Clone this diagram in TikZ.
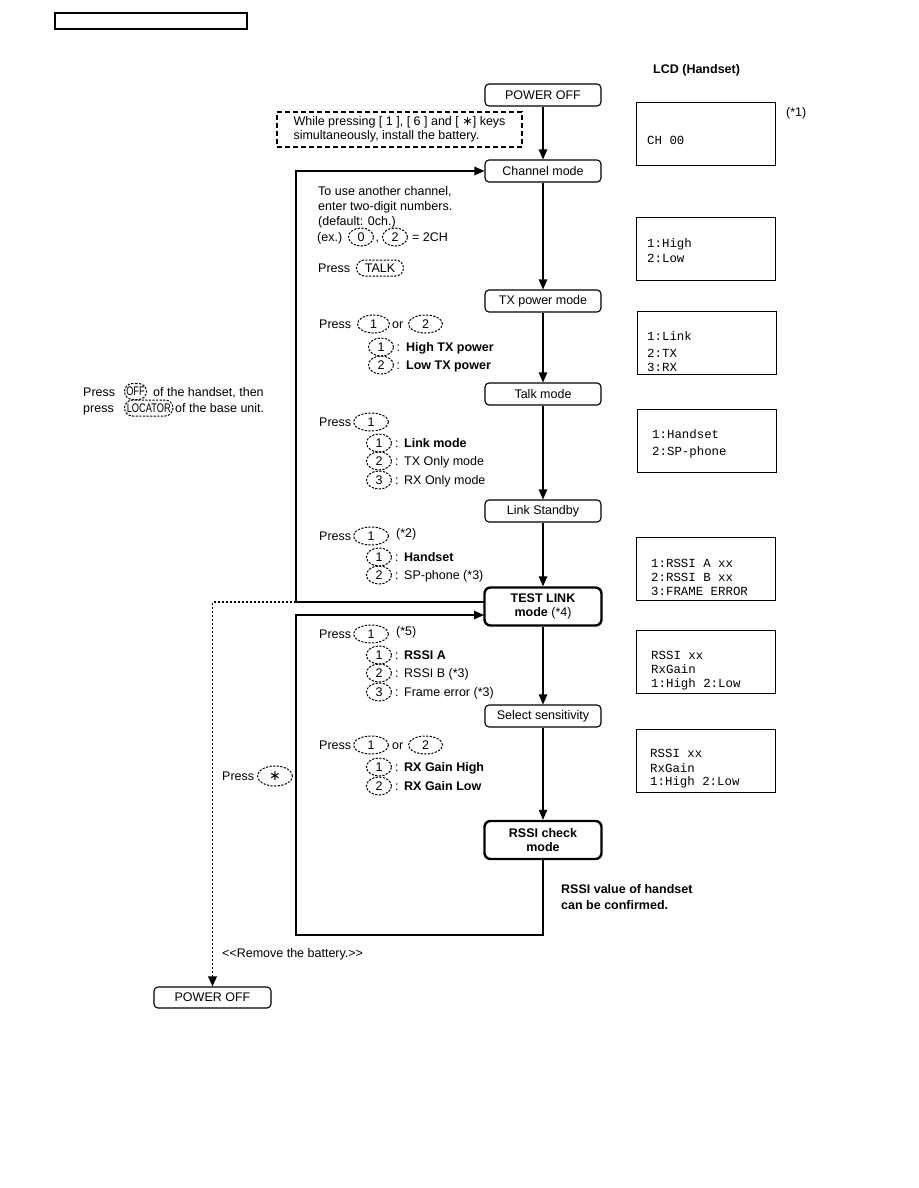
\documentclass[tikz,border=0pt]{standalone}
\usepackage{fontspec}
\setmainfont{Liberation Sans}
\setmonofont{Liberation Mono}
\newfontfamily\symfont{DejaVu Sans}
\newfontfamily\condfont[FakeStretch=0.74]{Liberation Sans}
\usetikzlibrary{arrows.meta,shapes.misc,shapes.geometric}
\newcommand\fs{\fontsize{12.5}{15}\selectfont}
\newcommand\lcdfs{\fontsize{12.4}{15}\selectfont}
\begin{document}
\begin{tikzpicture}[x=1pt,y=-1pt,
  txt/.style={inner sep=0pt, anchor=base west, font=\fs},
  btxt/.style={txt, font=\fs\bfseries},
  mtxt/.style={inner sep=0pt, anchor=base west, font=\lcdfs\ttfamily},
  keyo/.style={draw, dash pattern=on 2.2pt off 1.4pt, line width=1pt, ellipse, inner sep=0pt, minimum height=18pt, anchor=west, font=\fs},
  keyw/.style={keyo, rounded rectangle},
  mode/.style={draw, rounded corners=4pt, line width=1.1pt, minimum width=116pt, minimum height=22pt, inner sep=0pt, font=\fs},
  bigmode/.style={mode, line width=2.4pt, rounded corners=6pt, minimum width=117pt, minimum height=38pt, align=center, font=\fontsize{12.5}{14}\selectfont},
  lcd/.style={draw, line width=1.3pt, minimum width=139pt, minimum height=63pt, inner sep=0pt, anchor=north west},
  arr/.style={line width=1.1pt, -{Triangle[length=10pt,width=8.5pt]}},
  dotarr/.style={line width=1.7pt, dash pattern=on 2.5pt off 1.5pt, -{Triangle[length=10pt,width=8.5pt]}}
]
\useasboundingbox (0,0) rectangle (918,1188);

% header box
\node[draw, line width=1.4pt, minimum width=192pt, minimum height=16pt, inner sep=0pt] (hdr) at (151,21) {};

% LCD header
\node[btxt] (lcdh) at (653,73.5) {LCD (Handset)};

% main mode boxes
\node[mode] (po1) at (543,95) {POWER OFF};
\node[mode] (ch) at (543,171) {Channel mode};
\node[mode] (tx) at (543,301) {TX power mode};
\node[mode] (talk) at (543,394) {Talk mode};
\node[mode] (ls) at (543,511) {Link Standby};
\node[bigmode] (tl) at (543,606.5) {\textbf{TEST LINK}\\\textbf{mode} (*4)};
\node[mode] (ss) at (543,716) {Select sensitivity};
\node[bigmode] (rc) at (543,840) {\textbf{RSSI check}\\\textbf{mode}};
\node[mode, minimum width=117pt, minimum height=21pt] (po2) at (212.5,997.5) {POWER OFF};

% dashed instruction box
\node[draw, line width=1.4pt, dash pattern=on 5pt off 3pt, minimum width=245pt, minimum height=35pt, inner sep=0pt, align=left, font=\fontsize{12.5}{14}\selectfont] (db) at (399.5,129.5)
  {While pressing [ 1 ], [ 6 ] and [ {\symfont ∗}] keys\\simultaneously, install the battery.};

% main connectors
\draw[arr] (po1) -- (ch);
\draw[arr] (ch) -- (tx);
\draw[arr] (tx) -- (talk);
\draw[arr] (talk) -- (ls);
\draw[arr] (ls) -- (tl);
\draw[arr] (tl) -- (ss);
\draw[arr] (ss) -- (rc);

% loops
\coordinate (ul) at (296,602);
\coordinate (tlout) at (484,602);
\coordinate (tlin) at (484,615);
\coordinate (lb) at (296,935);
\draw[arr] (tlout) -- (ul) |- (ch.west);
\draw[arr] (rc.south) |- (lb) |- (tlin);
\coordinate (dl) at (212.5,602);
\draw[dotarr] (ul) -- (dl) -- (po2.north);

% channel mode section
\node[txt] (c1) at (318,195.5) {To use another channel,};
\node[txt] (c2) at (318,210) {enter two-digit numbers.};
\node[txt] (c3) at (318,225) {(default: 0ch.)};
\node[txt] (c4) at (317,241.5) {(ex.)};
\node[keyo, minimum width=25pt] (c4k1) at (348,237) {0};
\node[txt] (c4c) at (375.5,241.5) {,};
\node[keyo, minimum width=25pt] (c4k2) at (382,237) {2};
\node[txt] (c4e) at (412,241.5) {= 2CH};
\node[txt] (c5) at (318,272.5) {Press};
\node[keyw, minimum width=47pt, minimum height=16pt] (c5k) at (356,268) {TALK};

% TX power section
\node[txt] (t1) at (319,328.5) {Press};
\node[keyo, minimum width=32pt] (t1k1) at (357,324) {1};
\node[txt] (t1o) at (392,328.5) {or};
\node[keyo, minimum width=34pt] (t1k2) at (408,324) {2};
\node[keyo, minimum width=25pt] (t2k) at (368,347) {1};
\node[txt] (t2) at (396.5,351.5) {:\hspace{6pt}\textbf{High TX power}};
\node[keyo, minimum width=25pt] (t3k) at (368,365) {2};
\node[txt] (t3) at (396.5,369.5) {:\hspace{6pt}\textbf{Low TX power}};

% talk mode section
\node[txt] (k1) at (319,426.5) {Press};
\node[keyo, minimum width=35pt] (k1k) at (353,422) {1};
\node[keyo, minimum width=25pt] (k2k) at (366,443) {1};
\node[txt] (k2) at (395,447.5) {:\hspace{5.5pt}\textbf{Link mode}};
\node[keyo, minimum width=25pt] (k3k) at (366,461) {2};
\node[txt] (k3) at (395,465.5) {:\hspace{5.5pt}TX Only mode};
\node[keyo, minimum width=25pt] (k4k) at (366,480) {3};
\node[txt] (k4) at (395,484.5) {:\hspace{5.5pt}RX Only mode};

% link standby section
\node[txt] (s1) at (319,540.5) {Press};
\node[keyo, minimum width=35pt] (s1k) at (353,536) {1};
\node[txt] (s1n) at (396,537.5) {(*2)};
\node[keyo, minimum width=25pt] (s2k) at (366,557) {1};
\node[txt] (s2) at (395,561.5) {:\hspace{5.5pt}\textbf{Handset}};
\node[keyo, minimum width=25pt] (s3k) at (366,575) {2};
\node[txt] (s3) at (395,579.5) {:\hspace{5.5pt}SP-phone (*3)};

% test link section
\node[txt] (r1) at (319,638.5) {Press};
\node[keyo, minimum width=35pt] (r1k) at (353,634) {1};
\node[txt] (r1n) at (396,635.5) {(*5)};
\node[keyo, minimum width=25pt] (r2k) at (366,655) {1};
\node[txt] (r2) at (395,659.5) {:\hspace{5.5pt}\textbf{RSSI A}};
\node[keyo, minimum width=25pt] (r3k) at (366,673) {2};
\node[txt] (r3) at (395,677.5) {:\hspace{5.5pt}RSSI B (*3)};
\node[keyo, minimum width=25pt] (r4k) at (366,692) {3};
\node[txt] (r4) at (395,696.5) {:\hspace{5.5pt}Frame error (*3)};

% select sensitivity section
\node[txt] (g1) at (319,749.5) {Press};
\node[keyo, minimum width=35pt] (g1k1) at (353,745) {1};
\node[txt] (g1o) at (392,749.5) {or};
\node[keyo, minimum width=34pt] (g1k2) at (408,745) {2};
\node[keyo, minimum width=25pt] (g2k) at (366,767) {1};
\node[txt] (g2) at (395,771.5) {:\hspace{5.5pt}\textbf{RX Gain High}};
\node[keyo, minimum width=25pt] (g3k) at (366,786) {2};
\node[txt] (g3) at (395,790.5) {:\hspace{5.5pt}\textbf{RX Gain Low}};

% left side texts
\node[txt] (l1) at (83,396) {Press};
\node[keyw, minimum width=24pt, minimum height=16pt, inner xsep=1pt, font=\fs\condfont] (l1k) at (124,391.5) {OFF};
\node[txt] (l1b) at (153,396) {of the handset, then};
\node[txt] (l2) at (83,412.5) {press};
\node[keyw, minimum width=46pt, minimum height=16pt, inner xsep=1pt, font=\fs\condfont] (l2k) at (124,408) {LOCATOR};
\node[txt] (l2b) at (175,412.5) {of the base unit.};

\node[txt] (p1) at (222,780.5) {Press};
\node[keyo, minimum width=35pt, minimum height=20pt, font=\fontsize{14}{14}\symfont] (p1k) at (257,776) {∗};

\node[txt] (rb) at (222,957.5) {<{}<Remove the battery.>{}>};

\node[btxt] (rv1) at (561,893) {RSSI value of handset};
\node[btxt] (rv2) at (561,909.5) {can be confirmed.};

% LCD boxes
\node[lcd] (lcd1) at (636,102) {};
\node[txt] (n1) at (786,116.5) {(*1)};
\node[mtxt] (lcd1a) at (647,145) {CH 00};

\node[lcd] (lcd2) at (636,217) {};
\node[mtxt] (lcd2a) at (647,247) {1:High};
\node[mtxt] (lcd2b) at (647,262) {2:Low};

\node[lcd] (lcd3) at (637,311) {};
\node[mtxt] (lcd3a) at (647,340) {1:Link};
\node[mtxt] (lcd3b) at (647,357) {2:TX};
\node[mtxt] (lcd3c) at (647,371) {3:RX};

\node[lcd] (lcd4) at (637,409) {};
\node[mtxt] (lcd4a) at (652,438) {1:Handset};
\node[mtxt] (lcd4b) at (652,455) {2:SP-phone};

\node[lcd] (lcd5) at (636,537) {};
\node[mtxt] (lcd5a) at (651,567) {1:RSSI A xx};
\node[mtxt] (lcd5b) at (651,581) {2:RSSI B xx};
\node[mtxt] (lcd5c) at (651,595) {3:FRAME ERROR};

\node[lcd] (lcd6) at (636,629.5) {};
\node[mtxt] (lcd6a) at (651,659) {RSSI xx};
\node[mtxt] (lcd6b) at (651,673) {RxGain};
\node[mtxt] (lcd6c) at (651,687) {1:High 2:Low};

\node[lcd] (lcd7) at (636,728.5) {};
\node[mtxt] (lcd7a) at (650,757) {RSSI xx};
\node[mtxt] (lcd7b) at (650,772) {RxGain};
\node[mtxt] (lcd7c) at (650,785) {1:High 2:Low};
\end{tikzpicture}
\end{document}
